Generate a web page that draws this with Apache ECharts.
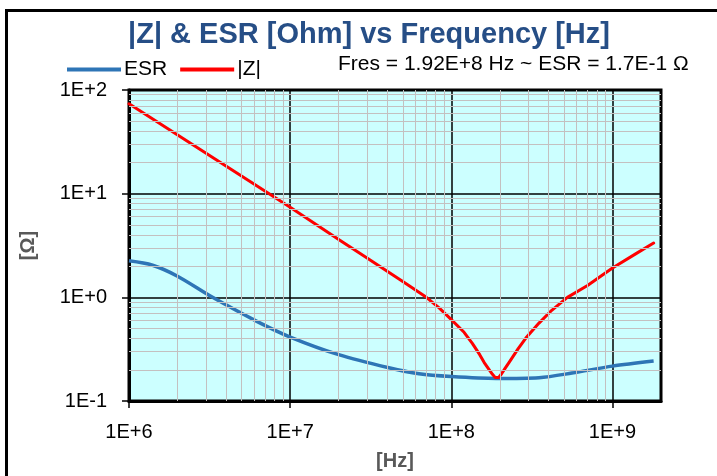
<!DOCTYPE html>
<html>
<head>
<meta charset="utf-8">
<script src="https://cdn.jsdelivr.net/npm/echarts@6/dist/echarts.min.js"></script>
<style>
html,body{margin:0;padding:0;background:#fff;}
#c{width:717px;height:476px;}
</style>
</head>
<body>
<div id="c"></div>
<script>
// ---- data ----
const titleText = '|Z| & ESR [Ohm] vs Frequency [Hz]';
const noteText = 'Fres = 1.92E+8 Hz ~ ESR = 1.7E-1 \u03A9';
const seriesNames = ['ESR', '|Z|'];
const xName = '[Hz]';
const yName = '[\u03A9]';

const freqESR = [1e6, 1.4e6, 2e6, 3.3e6, 6.3e6, 1e7, 2e7, 4.1e7, 6.3e7, 1e8, 1.9e8, 3.5e8, 5.6e8, 1e9, 1.8e9];
const valESR  = [2.25, 2.04, 1.6, 1.0, 0.58, 0.414, 0.28, 0.209, 0.183, 0.172, 0.165, 0.168, 0.186, 0.217, 0.243];

const freqZ = [1e6, 1e7, 2e7, 3e7, 5e7, 7e7, 8.4e7, 1e8, 1.2e8, 1.35e8, 1.5e8, 1.6e8, 1.72e8, 1.8e8, 1.87e8, 1.92e8, 1.97e8, 2.05e8, 2.15e8, 2.3e8, 2.6e8, 2.9e8, 3.5e8, 4.2e8, 5.25e8, 7e8, 1e9, 1.4e9, 1.8e9];
const valZ  = [73.5, 7.4, 3.62, 2.4, 1.42, 1.0, 0.79, 0.61, 0.46, 0.36, 0.28, 0.235, 0.2, 0.181, 0.169, 0.165, 0.169, 0.183, 0.205, 0.24, 0.32, 0.405, 0.564, 0.75, 1.0, 1.3, 1.92, 2.64, 3.34];

// minor grid positions (2..9 in each decade)
const xMinor = [2e6,3e6,4e6,5e6,6e6,7e6,8e6,9e6, 2e7,3e7,4e7,5e7,6e7,7e7,8e7,9e7, 2e8,3e8,4e8,5e8,6e8,7e8,8e8,9e8];
const yMinor = [0.2,0.3,0.4,0.5,0.6,0.7,0.8,0.9, 2,3,4,5,6,7,8,9, 20,30,40,50,60,70,80,90];

// ---- chart ----
const chart = echarts.init(document.getElementById('c'), null, {renderer: 'canvas'});
const expFmt = function (v) {
  const e = Math.log10(v);
  const r = Math.round(e);
  if (Math.abs(e - r) > 1e-6) return '';
  return '1E' + (r >= 0 ? '+' : '-') + Math.abs(r);
};
const pairs = (xs, ys) => xs.map((x, i) => [x, ys[i]]);
const font = 'Liberation Sans, Arial, sans-serif';

chart.setOption({
  animation: false,
  backgroundColor: '#ffffff',
  textStyle: {fontFamily: font},
  title: {
    text: titleText,
    left: 364, top: 15, textAlign: 'center',
    textStyle: {fontFamily: font, fontSize: 29, fontWeight: 'bold', color: '#264e86'}
  },
  legend: {
    data: seriesNames.map(n => ({name: n, icon: 'rect'})),
    left: 62, top: 54,
    itemWidth: 54, itemHeight: 4, itemGap: 13,
    textStyle: {fontFamily: font, fontSize: 21, color: '#000', padding: [0, 0, 0, -2]}
  },
  graphic: [
    {type: 'rect', left: 4, top: 8, shape: {width: 760, height: 520},
     style: {fill: 'none', stroke: '#000', lineWidth: 3}, z: 10, silent: true},
    {type: 'text', left: 338, top: 54,
     style: {text: noteText, font: '21px ' + font, fill: '#000'}, z: 10}
  ],
  grid: {
    left: 129, top: 90, right: 56, bottom: 72,
    show: true, backgroundColor: '#ccffff', borderColor: '#000', borderWidth: 3, z: 0
  },
  xAxis: {
    type: 'log', logBase: 10, min: 1e6, max: 2e9, z: 1.5,
    name: xName, nameLocation: 'middle', nameGap: 50,
    nameTextStyle: {fontFamily: font, fontSize: 20, fontWeight: 'bold', color: '#595959'},
    axisLine: {show: true, lineStyle: {color: '#000', width: 3}},
    axisTick: {show: true, inside: false, length: 7, lineStyle: {color: '#000', width: 1.5}},
    axisLabel: {formatter: expFmt, margin: 21, fontFamily: font, fontSize: 20, color: '#000', showMaxLabel: false},
    splitLine: {show: true, lineStyle: {color: '#000', width: 1.5}},
    minorTick: {show: false}, minorSplitLine: {show: false}
  },
  yAxis: {
    type: 'log', logBase: 10, min: 0.1, max: 100, z: 1.5,
    name: yName, nameLocation: 'middle', nameGap: 91, nameRotate: 90,
    nameTextStyle: {fontFamily: font, fontSize: 20, fontWeight: 'bold', color: '#595959'},
    axisLine: {show: true, lineStyle: {color: '#000', width: 3}},
    axisTick: {show: true, inside: false, length: 7, lineStyle: {color: '#000', width: 1.5}},
    axisLabel: {formatter: expFmt, margin: 22, fontFamily: font, fontSize: 20, color: '#000'},
    splitLine: {show: true, lineStyle: {color: '#000', width: 1.5}},
    minorTick: {show: false}, minorSplitLine: {show: false}
  },
  series: [
    {
      name: 'minor', type: 'line', data: [], z: 1, silent: true,
      markLine: {
        silent: true, symbol: 'none', animation: false,
        label: {show: false},
        lineStyle: {color: '#c4c0c0', width: 1, type: 'solid'},
        emphasis: {disabled: true},
        data: xMinor.map(v => ({xAxis: v})).concat(yMinor.map(v => ({yAxis: v})))
      }
    },
    {
      name: seriesNames[0], type: 'line', data: pairs(freqESR, valESR),
      symbol: 'none', smooth: 0.3, z: 3,
      lineStyle: {color: '#2e75b6', width: 3.5}, itemStyle: {color: '#2e75b6'}
    },
    {
      name: seriesNames[1], type: 'line', data: pairs(freqZ, valZ),
      symbol: 'none', smooth: false, z: 4,
      lineStyle: {color: '#ff0000', width: 3, join: 'round', cap: 'round'}, itemStyle: {color: '#ff0000'}
    }
  ]
});
</script>
</body>
</html>
